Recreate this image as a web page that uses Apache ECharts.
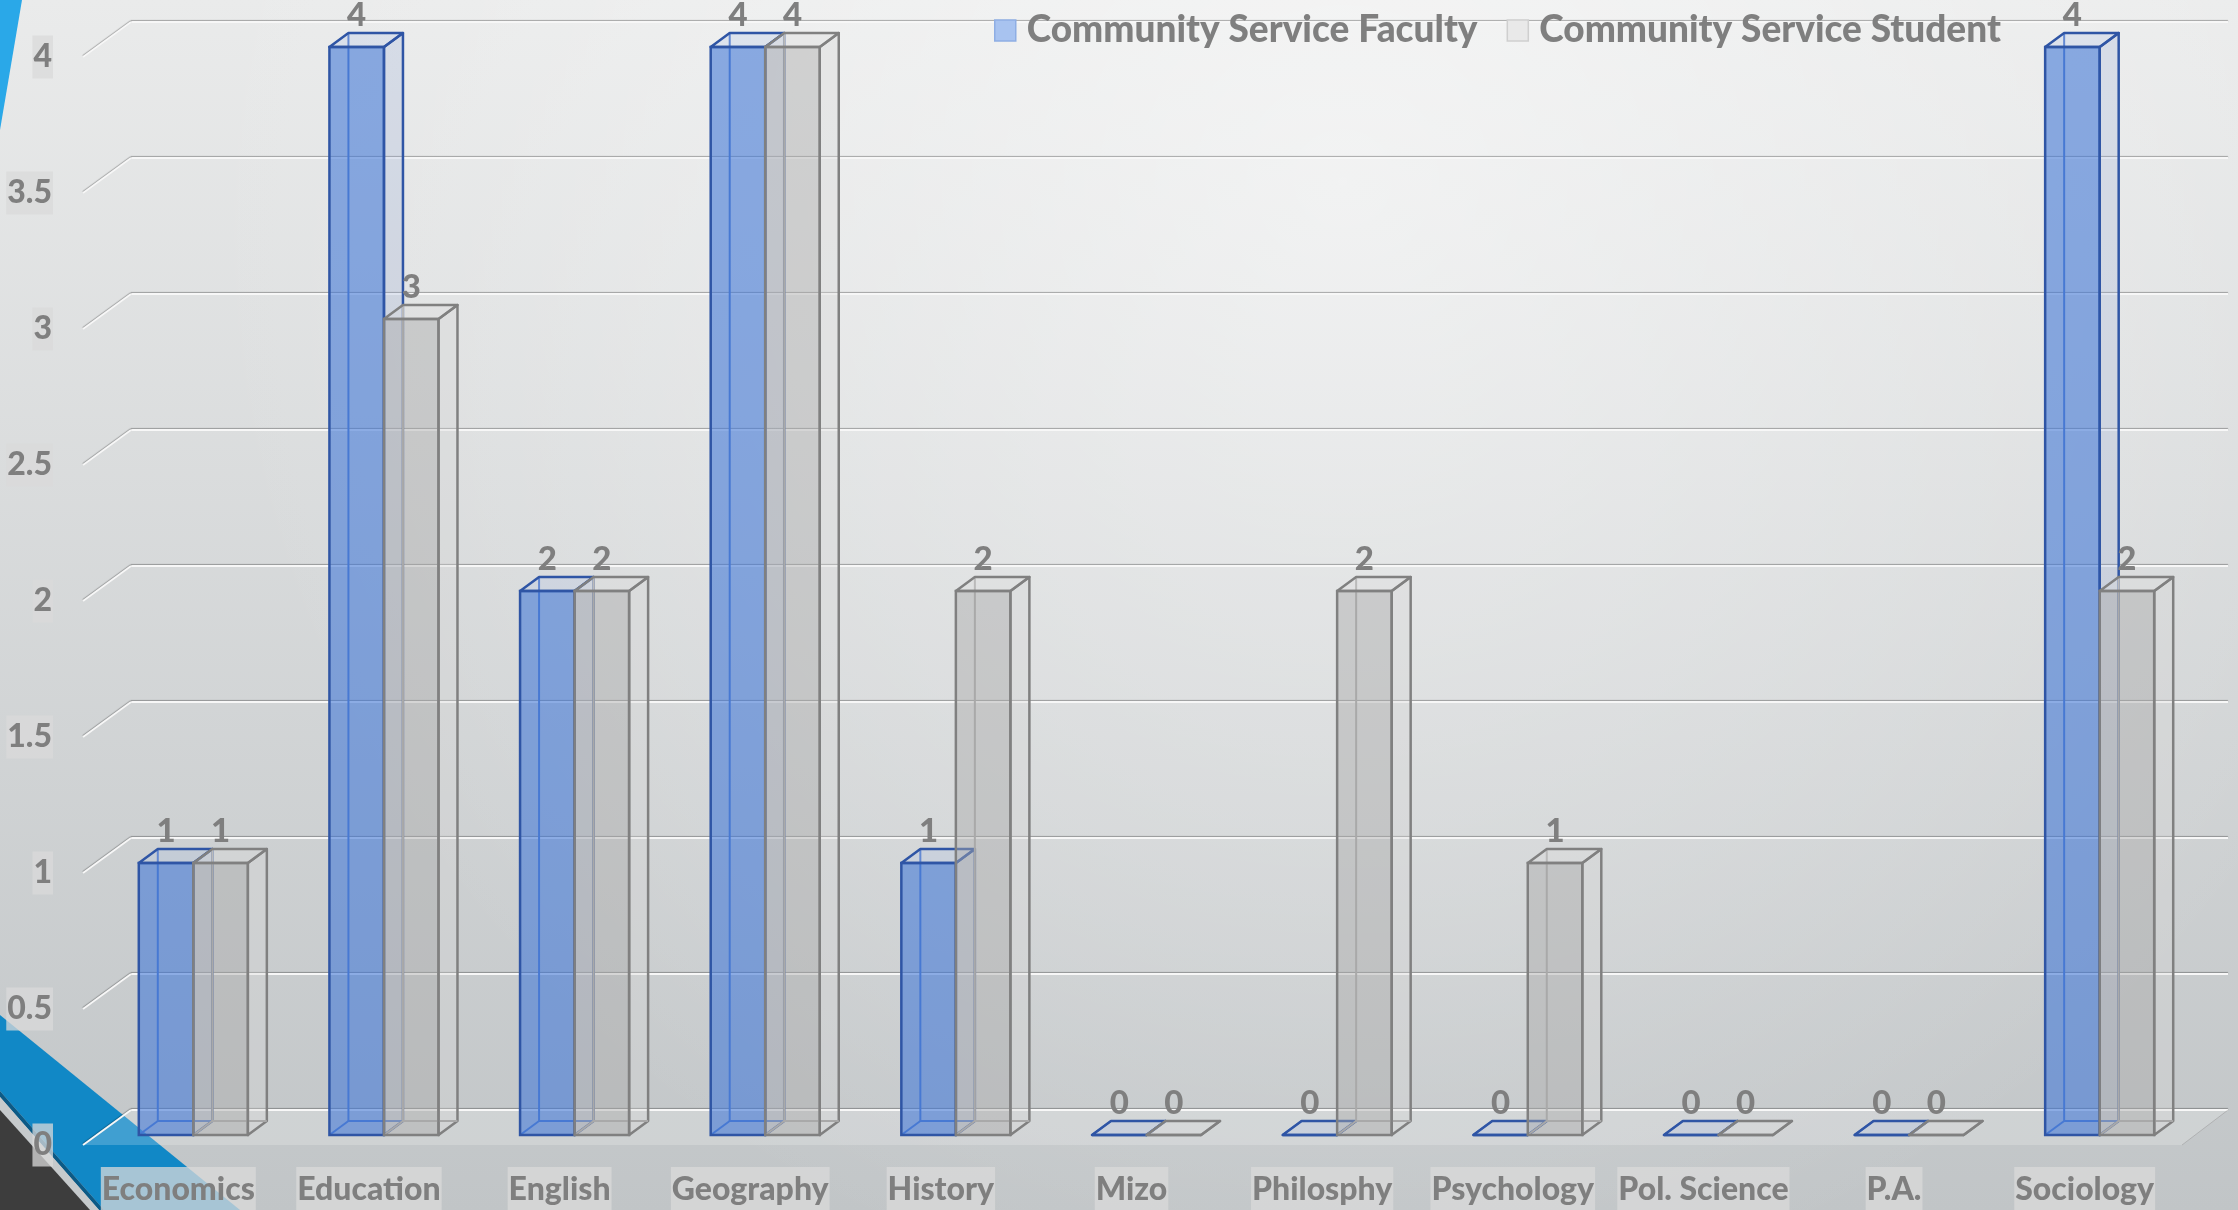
<!DOCTYPE html>
<html>
<head>
<meta charset="utf-8">
<script src="https://cdn.jsdelivr.net/npm/echarts@6/dist/echarts.min.js"></script>
<style>
  html, body { margin: 0; padding: 0; }
  #chart { width: 2238px; height: 1210px; }
</style>
</head>
<body>
<div id="chart"></div>
<script>
// 数据
var categories = ['Economics', 'Education', 'English', 'Geography', 'History', 'Mizo',
  'Philosphy', 'Psychology', 'Pol. Science', 'P.A.', 'Sociology']
var faculty = [1, 4, 2, 4, 1, 0, 0, 0, 0, 0, 4]
var student = [1, 3, 2, 4, 2, 0, 2, 1, 0, 0, 2]
var yTicks = [0, 0.5, 1, 1.5, 2, 2.5, 3, 3.5, 4]

// 立体柱子的样式
var DX = 19, DY = -14
var BAR_RATIO = 0.286
var FONT = 'Lato, "Open Sans", sans-serif'
var WEIGHT = 900
var palFaculty = {
  front: 'rgba(68,121,215,0.6)',
  side: 'rgba(150,170,215,0.25)',
  top: 'rgba(170,190,230,0.25)',
  edge: '#2f55a5',
  hidden: '#4d78cc'
}
var palStudent = {
  front: 'rgba(170,170,170,0.45)',
  side: 'rgba(215,215,215,0.35)',
  top: 'rgba(220,220,220,0.35)',
  edge: '#808080',
  hidden: '#a8a8a8'
}

function makeBox(side, pal) {
  return function (params, api) {
    var ci = api.value(0), v = api.value(1)
    var base = api.coord([ci, 0])
    var topPt = api.coord([ci, v])
    var band = api.size([1, 0])[0]
    var w = band * BAR_RATIO
    var x = side === 0 ? base[0] - w : base[0]
    var x2 = x + w, yb = base[1], yt = topPt[1]
    return {
      type: 'group',
      children: [
        {
          type: 'polygon',
          shape: { points: [[x2, yt], [x2 + DX, yt + DY], [x2 + DX, yb + DY], [x2, yb]] },
          style: { fill: pal.side, stroke: pal.edge, lineWidth: 2.5, lineJoin: 'round' }
        },
        {
          type: 'polyline',
          shape: { points: [[x + DX, yt + DY], [x + DX, yb + DY], [x2 + DX, yb + DY]] },
          style: { fill: null, stroke: pal.hidden, lineWidth: 2 }
        },
        {
          type: 'line',
          shape: { x1: x, y1: yb, x2: x + DX, y2: yb + DY },
          style: { stroke: pal.hidden, lineWidth: 2 }
        },
        {
          type: 'polygon',
          shape: { points: [[x, yt], [x + DX, yt + DY], [x2 + DX, yt + DY], [x2, yt]] },
          style: { fill: pal.top, stroke: pal.edge, lineWidth: 2.5, lineJoin: 'round' }
        },
        {
          type: 'rect',
          shape: { x: x, y: yt, width: w, height: yb - yt },
          style: { fill: pal.front, stroke: pal.edge, lineWidth: 2.5 }
        },
        {
          type: 'text',
          style: {
            text: String(v),
            x: x + w / 2,
            y: yt + DY - 1,
            align: 'center', verticalAlign: 'bottom',
            textAlign: 'center', textVerticalAlign: 'bottom',
            font: WEIGHT + ' 33px ' + FONT,
            fill: '#7f7f7f'
          }
        }
      ]
    }
  }
}

// 背墙左侧的斜线 + 地板
function renderWall(params, api) {
  var cs = params.coordSys
  var y = api.coord([0, api.value(1)])[1]
  var children = [{
    type: 'line',
    shape: { x1: cs.x - 48, y1: y + 35, x2: cs.x, y2: y },
    style: { stroke: '#f7f7f7', lineWidth: 2, shadowColor: 'rgba(0,0,0,0.3)', shadowBlur: 1, shadowOffsetY: -1 }
  }]
  if (api.value(1) === 0) {
    children.unshift({
      type: 'polygon',
      shape: { points: [[cs.x - 48, y + 35], [cs.x, y], [cs.x + cs.width, y], [cs.x + cs.width - 46, y + 35]] },
      style: { fill: 'rgba(255,255,255,0.2)', stroke: null }
    })
    children.push({
      type: 'line',
      shape: { x1: cs.x + cs.width, y1: y, x2: cs.x + cs.width - 46, y2: y + 35 },
      style: { stroke: 'rgba(150,150,150,0.5)', lineWidth: 1 }
    })
  }
  return { type: 'group', children: children }
}

var chart = echarts.init(document.getElementById('chart'))
var labelStyle = {
  fontFamily: FONT, fontWeight: WEIGHT, fontSize: 32, color: '#7f7f7f',
  backgroundColor: 'rgba(218,218,218,0.75)', lineHeight: 32
}
chart.setOption({
  animation: false,
  backgroundColor: {
    type: 'linear', x: 0, y: 0, x2: 0, y2: 1,
    colorStops: [{ offset: 0, color: '#eaebeb' }, { offset: 1, color: '#c1c5c7' }]
  },
  graphic: [
    {
      type: 'rect', z: -10, silent: true,
      shape: { x: 0, y: 0, width: 2238, height: 1210 },
      style: {
        fill: {
          type: 'radial', x: 0.6, y: 0.15, r: 0.95,
          colorStops: [{ offset: 0, color: 'rgba(255,255,255,0.5)' }, { offset: 1, color: 'rgba(255,255,255,0)' }]
        }
      }
    },
    { type: 'polygon', z: -9, silent: true, shape: { points: [[0, 0], [22, 0], [0, 130]] }, style: { fill: '#2aa8e8' } },
    { type: 'polygon', z: -9, silent: true, shape: { points: [[0, 1015], [240, 1210], [104, 1210], [0, 1091]] }, style: { fill: '#1188c6' } },
    { type: 'polygon', z: -9, silent: true, shape: { points: [[0, 1091], [104, 1210], [99, 1210], [0, 1097]] }, style: { fill: '#0b5a86' } },
    { type: 'polygon', z: -9, silent: true, shape: { points: [[0, 1097], [99, 1210], [90, 1210], [0, 1110]] }, style: { fill: '#c6cacc' } },
    { type: 'polygon', z: -9, silent: true, shape: { points: [[0, 1110], [90, 1210], [0, 1210]] }, style: { fill: '#3d3d3d' } }
  ],
  legend: {
    left: 989, top: 7,
    itemWidth: 21, itemHeight: 21, itemGap: 29,
    selectedMode: false,
    textStyle: { fontFamily: FONT, fontWeight: WEIGHT, fontSize: 37, color: '#7f7f7f', padding: [0, 0, 0, 6] },
    data: [
      { name: 'Community Service Faculty', icon: 'rect', itemStyle: { color: '#a8c3f0', borderColor: '#8eaee4', borderWidth: 1.5 } },
      { name: 'Community Service Student', icon: 'rect', itemStyle: { color: '#e9e9e9', borderColor: '#cfcfcf', borderWidth: 1.5 } }
    ]
  },
  grid: [
    { left: 98, top: 47, width: 2097, height: 1088, outerBoundsMode: 'none' },
    { left: 131, top: 22, width: 2097, height: 1088, outerBoundsMode: 'none' },
    { left: 83, top: 57, width: 2097, height: 1088, outerBoundsMode: 'none' }
  ],
  xAxis: [
    { gridIndex: 0, type: 'category', data: categories, show: false },
    { gridIndex: 1, type: 'category', data: categories, show: false },
    {
      gridIndex: 2, type: 'category', data: categories,
      axisLine: { show: false }, axisTick: { show: false },
      axisLabel: Object.assign({ margin: 22, padding: [7, 1, 8, 1], interval: 0 }, labelStyle)
    }
  ],
  yAxis: [
    { gridIndex: 0, type: 'value', min: 0, max: 4, interval: 0.5, show: false },
    {
      gridIndex: 1, type: 'value', min: 0, max: 4, interval: 0.5,
      axisLine: { show: false }, axisTick: { show: false }, axisLabel: { show: false },
      splitLine: { lineStyle: { color: '#f7f7f7', width: 2, shadowColor: 'rgba(0,0,0,0.3)', shadowBlur: 1, shadowOffsetY: -1 } }
    },
    {
      gridIndex: 2, type: 'value', min: 0, max: 4, interval: 0.5,
      axisLine: { show: false }, axisTick: { show: false }, splitLine: { show: false },
      axisLabel: Object.assign({ margin: 30, padding: [5, 1, 6, 1] }, labelStyle)
    }
  ],
  series: [
    {
      type: 'custom', name: 'wall', xAxisIndex: 1, yAxisIndex: 1, silent: true,
      data: yTicks.map(function (v) { return [0, v] }),
      encode: { x: 0, y: 1 },
      renderItem: renderWall
    },
    {
      type: 'custom', name: 'Community Service Faculty', xAxisIndex: 0, yAxisIndex: 0,
      itemStyle: { color: '#a8c3f0' },
      data: faculty.map(function (v, i) { return [i, v] }),
      encode: { x: 0, y: 1 },
      renderItem: makeBox(0, palFaculty)
    },
    {
      type: 'custom', name: 'Community Service Student', xAxisIndex: 0, yAxisIndex: 0,
      itemStyle: { color: '#e9e9e9' },
      data: student.map(function (v, i) { return [i, v] }),
      encode: { x: 0, y: 1 },
      renderItem: makeBox(1, palStudent)
    }
  ]
})
</script>
</body>
</html>
